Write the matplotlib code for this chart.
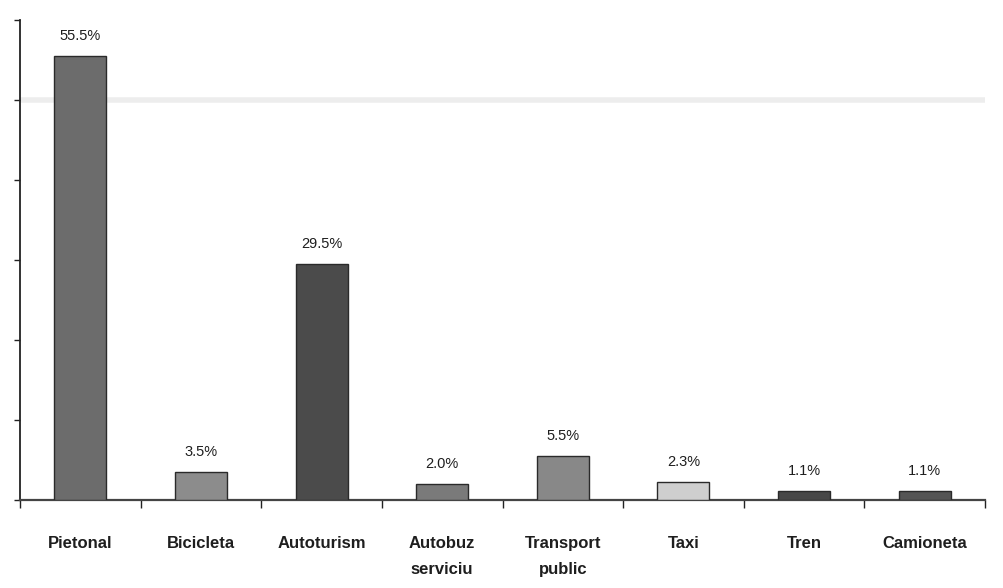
import numpy as np
import matplotlib
matplotlib.use("Agg")
import matplotlib.pyplot as plt

# data
categories = ["Pietonal", "Bicicleta", "Autoturism", "Autobuz\nserviciu",
              "Transport\npublic", "Taxi", "Tren", "Camioneta"]
values = [55.5, 3.5, 29.5, 2.0, 5.5, 2.3, 1.1, 1.1]
bar_colors = ["#6c6c6c", "#8c8c8c", "#4b4b4b", "#7a7a7a",
              "#888888", "#cfcfcf", "#474747", "#555555"]

plt.rcParams['font.family'] = ['Liberation Sans', 'DejaVu Sans']

fig = plt.figure(figsize=(10.04, 5.88), dpi=100)
ax = fig.add_axes([0.02, 0.1497, 0.961, 0.8163])

x = np.arange(len(categories))
ax.bar(x, values, width=0.43, color=bar_colors, edgecolor="#2a2a2a", linewidth=1.0, zorder=3)

# faint horizontal band seen in the scan
ax.axhline(50, color="#d8d8d8", linewidth=4, alpha=0.45, zorder=1)

for xi, v in zip(x, values):
    ax.text(xi, v + 1.6, f"{v:.1f}%", ha="center", va="bottom", fontsize=10.5, color="#1e1e1e")

ax.set_xlim(-0.5, 7.5)
ax.set_ylim(0, 60)
ax.set_yticks(np.arange(0, 61, 10))
ax.set_yticklabels([])
ax.tick_params(axis="y", direction="out", length=4, width=1, color="#222222")

ax.set_xticks(x)
ax.set_xticklabels(categories, fontsize=12, fontweight="bold", color="#1e1e1e",
                   linespacing=1.9, va="top")
ax.tick_params(axis="x", which="major", length=0, pad=26)
ax.set_xticks(np.arange(-0.5, 8, 1), minor=True)
ax.tick_params(axis="x", which="minor", direction="out", length=6, width=1, color="#222222")

for s in ["top", "right"]:
    ax.spines[s].set_visible(False)
ax.spines["left"].set_color("#222222")
ax.spines["left"].set_linewidth(1.3)
ax.spines["bottom"].set_color("#444444")
ax.spines["bottom"].set_linewidth(1.6)

fig.savefig("out.png", dpi=100)
